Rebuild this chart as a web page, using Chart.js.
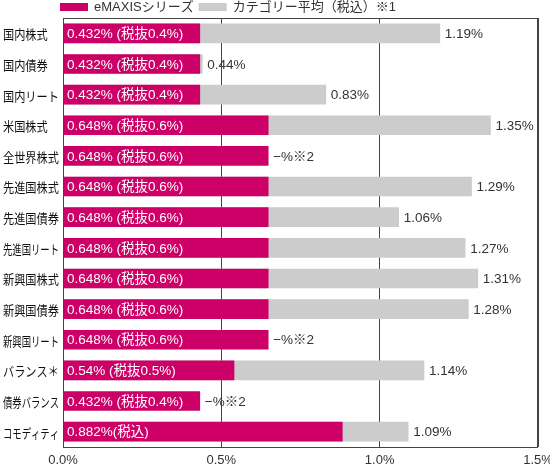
<!DOCTYPE html>
<html>
<head>
<meta charset="utf-8">
<script src="https://cdn.jsdelivr.net/npm/chart.js@4"></script>
<style>
  html, body { margin: 0; padding: 0; background: #fff; }
  #wrap { width: 550px; height: 466px; }
</style>
</head>
<body>
<div id="wrap"><canvas id="fees" width="550" height="466"></canvas></div>
<script>
const categories = ["国内株式", "国内債券", "国内リート", "米国株式", "全世界株式", "先進国株式", "先進国債券",
  "先進国リート", "新興国株式", "新興国債券", "新興国リート", "バランス＊", "債券バランス", "コモディティ"];
const emaxis = [0.432, 0.432, 0.432, 0.648, 0.648, 0.648, 0.648, 0.648, 0.648, 0.648, 0.648, 0.54, 0.432, 0.882];
const emaxisLabels = ["0.432% (税抜0.4%)", "0.432% (税抜0.4%)", "0.432% (税抜0.4%)", "0.648% (税抜0.6%)",
  "0.648% (税抜0.6%)", "0.648% (税抜0.6%)", "0.648% (税抜0.6%)", "0.648% (税抜0.6%)", "0.648% (税抜0.6%)",
  "0.648% (税抜0.6%)", "0.648% (税抜0.6%)", "0.54% (税抜0.5%)", "0.432% (税抜0.4%)", "0.882%(税込)"];
const categoryAvg = [1.19, 0.44, 0.83, 1.35, null, 1.29, 1.06, 1.27, 1.31, 1.28, null, 1.14, null, 1.09];
const xTicks = [0, 0.5, 1.0, 1.5];
const seriesNames = ["eMAXISシリーズ", "カテゴリー平均（税込）※1"];

const PINK = "#cc0066";
const GRAY = "#cccccc";
const FONT = "'Liberation Sans', 'Noto Sans CJK JP', sans-serif";
const JFONT = "'Noto Sans CJK JP', sans-serif";

// frame + bar labels + category labels + legend
const extras = {
  id: "extras",
  afterDatasetsDraw(chart) {
    const { ctx, chartArea } = chart;
    const pinkMeta = chart.getDatasetMeta(0);
    const grayMeta = chart.getDatasetMeta(1);
    const yScale = chart.scales.y;
    ctx.save();
    ctx.font = "13.5px " + FONT;
    ctx.textBaseline = "middle";
    pinkMeta.data.forEach((bar, i) => {
      ctx.fillStyle = "#fff";
      ctx.textAlign = "left";
      ctx.fillText(emaxisLabels[i], chartArea.left + 4, bar.y + 1);
      const g = categoryAvg[i];
      ctx.fillStyle = "#333";
      if (g == null) {
        ctx.fillText("−%※2", bar.x + 5, bar.y + 1);
      } else {
        ctx.fillText(g.toFixed(2) + "%", grayMeta.data[i].x + 5, bar.y + 1);
      }
    });
    // category labels, squeezed a little like the original typesetting
    ctx.font = "13px " + JFONT;
    ctx.fillStyle = "#111";
    categories.forEach((name, i) => {
      const y = yScale.getPixelForTick(i);
      const w = ctx.measureText(name).width;
      const target = Math.min(w * 0.86, 56);
      ctx.save();
      ctx.translate(3, y + 1);
      ctx.scale(target / w, 1);
      ctx.fillText(name, 0, 0);
      ctx.restore();
    });
    ctx.strokeStyle = "#444";
    ctx.lineWidth = 1;
    ctx.strokeRect(Math.round(chartArea.left) + 0.5, Math.round(chartArea.top) + 0.5,
      Math.round(chartArea.right - chartArea.left) - 1, Math.round(chartArea.bottom - chartArea.top));
    ctx.restore();
  },
  afterDraw(chart) {
    const { ctx } = chart;
    ctx.save();
    ctx.font = "13px " + FONT;
    ctx.textBaseline = "middle";
    ctx.textAlign = "left";
    let x = 60;
    [PINK, GRAY].forEach((c, i) => {
      ctx.fillStyle = c;
      ctx.fillRect(x, 3, 28, 8);
      ctx.fillStyle = "#333";
      ctx.fillText(seriesNames[i], x + 34, 7.5);
      x += 34 + ctx.measureText(seriesNames[i]).width + 5;
    });
    ctx.restore();
  }
};

new Chart(document.getElementById("fees"), {
  type: "bar",
  data: {
    labels: categories,
    datasets: [
      { label: seriesNames[0], data: emaxis, backgroundColor: PINK, order: 0 },
      { label: seriesNames[1], data: categoryAvg, backgroundColor: GRAY, order: 1 }
    ]
  },
  options: {
    indexAxis: "y",
    responsive: false,
    animation: false,
    grouped: false,
    barThickness: 19,
    layout: { padding: { top: 18, left: 3, right: 0, bottom: 0 } },
    plugins: { legend: { display: false }, tooltip: { enabled: false } },
    scales: {
      x: {
        min: 0,
        max: 1.5,
        afterBuildTicks: (s) => { s.ticks = xTicks.map((v) => ({ value: v })); },
        afterFit: (s) => { s.height = 19; s.paddingRight = 12; },
        grid: { color: "#444", drawTicks: false },
        border: { display: false },
        ticks: {
          padding: 6,
          color: "#333",
          font: { family: FONT, size: 13 },
          callback: (v) => Number(v).toFixed(1) + "%"
        }
      },
      y: {
        afterFit: (s) => { s.width = 60; },
        grid: { display: false, drawTicks: false },
        border: { display: false },
        ticks: { display: false }
      }
    }
  },
  plugins: [extras]
});
</script>
</body>
</html>
